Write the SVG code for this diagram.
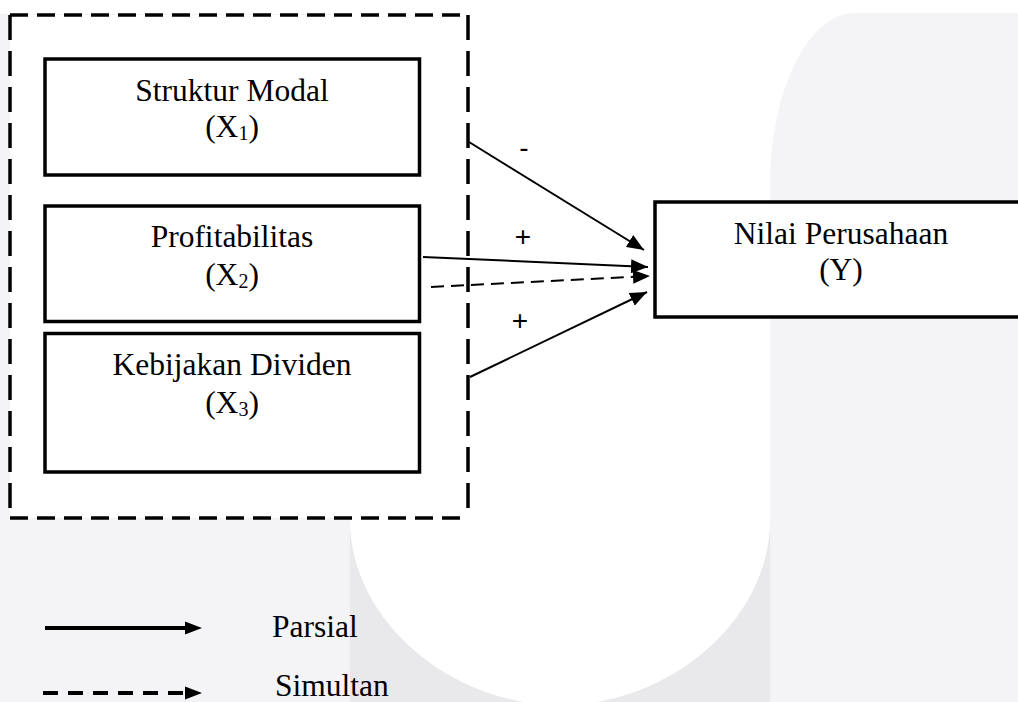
<svg xmlns="http://www.w3.org/2000/svg" width="1018" height="702" viewBox="0 0 1018 702">
  <style>
    .node { fill: #ffffff; stroke: #000000; stroke-width: 3.5; }
    .label { font-family: "Liberation Serif", "Times New Roman", serif; font-size: 31.5px; fill: #000000; text-anchor: middle; }
    .left { text-anchor: start; }
    .sub { font-size: 20px; }
    .sign { font-family: "Liberation Sans", Arial, sans-serif; font-size: 28px; fill: #000000; text-anchor: middle; }
    .conn { fill: none; stroke: #000000; stroke-width: 2; }
    .dashed { stroke-dasharray: 13 7; }
    .legend-line { fill: none; stroke: #000000; stroke-width: 4; }
    .grp { fill: none; stroke: #000000; stroke-width: 3.5; }
  </style>
  <defs>
    <marker id="arrow" viewBox="0 0 17 14" refX="17" refY="7" markerWidth="17" markerHeight="14" markerUnits="userSpaceOnUse" orient="auto">
      <path d="M0,0 L17,7 L0,14 Z" fill="#000000"/>
    </marker>
  </defs>

  <!-- background watermark -->
  <g id="background">
    <rect x="0" y="0" width="1018" height="702" fill="#ffffff"/>
    <rect x="0" y="14" width="352" height="688" fill="#f4f4f6"/>
    <rect x="350" y="520" width="420" height="182" fill="#e9e9eb"/>
    <path d="M350,400 L350,520 C350,620 450,705 560,705 C670,705 770,620 770,520 L770,400 Z" fill="#ffffff"/>
    <path d="M770,702 V185 A85,172 0 0 1 855,13 H1018 V702 Z" fill="#f4f4f6"/>
  </g>

  <!-- simultaneous group box -->
  <g id="simultan-group">
    <rect x="10" y="15" width="458" height="503" fill="#ffffff"/>
    <line class="grp" x1="10" y1="15" x2="468" y2="15" stroke-dasharray="18 9"/>
    <line class="grp" x1="10" y1="518" x2="468" y2="518" stroke-dasharray="18 9"/>
    <line class="grp" x1="10" y1="15" x2="10" y2="518" stroke-dasharray="25 11"/>
    <line class="grp" x1="468" y1="15" x2="468" y2="518" stroke-dasharray="25 11"/>
  </g>

  <g id="node-x1">
    <rect class="node" x="45" y="59" width="374.5" height="116"/>
    <text class="label" x="232" y="101">Struktur Modal</text>
    <text class="label" x="232" y="137">(X<tspan class="sub" dy="3">1</tspan><tspan dy="-3">)</tspan></text>
  </g>

  <g id="node-x2">
    <rect class="node" x="45" y="206" width="374.5" height="115.5"/>
    <text class="label" x="232" y="247">Profitabilitas</text>
    <text class="label" x="232" y="285">(X<tspan class="sub" dy="3">2</tspan><tspan dy="-3">)</tspan></text>
  </g>

  <g id="node-x3">
    <rect class="node" x="45" y="333.5" width="374.5" height="138.5"/>
    <text class="label" x="232" y="375">Kebijakan Dividen</text>
    <text class="label" x="232" y="413">(X<tspan class="sub" dy="3">3</tspan><tspan dy="-3">)</tspan></text>
  </g>

  <g id="node-y">
    <rect class="node" x="655" y="202" width="372" height="115"/>
    <text class="label" x="841" y="244">Nilai Perusahaan</text>
    <text class="label" x="841" y="280">(Y)</text>
  </g>

  <g id="connectors">
    <line class="conn" x1="469" y1="142" x2="644" y2="250" marker-end="url(#arrow)"/>
    <line class="conn" x1="423" y1="257" x2="648" y2="267" marker-end="url(#arrow)"/>
    <line class="conn dashed" x1="431" y1="287" x2="650" y2="276" marker-end="url(#arrow)"/>
    <line class="conn" x1="470" y1="377" x2="647" y2="292" marker-end="url(#arrow)"/>
    <text class="sign" x="524" y="157">-</text>
    <text class="sign" x="523" y="245.5">+</text>
    <text class="sign" x="520" y="329.5">+</text>
  </g>

  <g id="legend">
    <line class="legend-line" x1="45" y1="628" x2="187" y2="628"/>
    <path d="M185,621.5 L202,628 L185,634.5 Z" fill="#000000"/>
    <line class="legend-line" x1="43" y1="693" x2="187" y2="693" stroke-dasharray="15 10"/>
    <path d="M185,686.5 L202,693 L185,699.5 Z" fill="#000000"/>
    <text class="label left" x="272" y="637">Parsial</text>
    <text class="label left" x="275" y="696">Simultan</text>
  </g>
</svg>
